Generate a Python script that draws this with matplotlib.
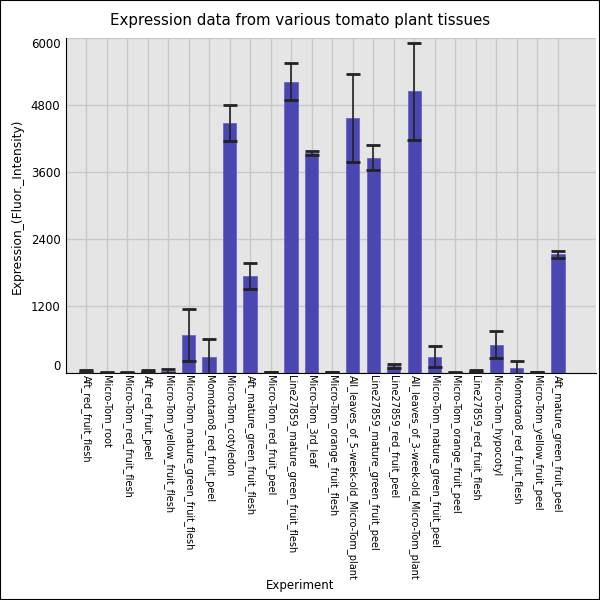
import matplotlib
matplotlib.use("Agg")
import matplotlib.pyplot as plt
from matplotlib.patches import Rectangle
import numpy as np

experiments = [
    "Aft_red_fruit_flesh", "Micro-Tom_root", "Micro-Tom_red_fruit_flesh",
    "Aft_red_fruit_peel", "Micro-Tom_yellow_fruit_flesh",
    "Micro-Tom_mature_green_fruit_flesh", "Momotaro8_red_fruit_peel",
    "Micro-Tom_cotyledon", "Aft_mature_green_fruit_flesh",
    "Micro-Tom_red_fruit_peel", "Line27859_mature_green_fruit_flesh",
    "Micro-Tom_3rd_leaf", "Micro-Tom_orange_fruit_flesh",
    "All_leaves_of_5-week-old_Micro-Tom_plant",
    "Line27859_mature_green_fruit_peel", "Line27859_red_fruit_peel",
    "All_leaves_of_3-week-old_Micro-Tom_plant",
    "Micro-Tom_mature_green_fruit_peel", "Micro-Tom_orange_fruit_peel",
    "Line27859_red_fruit_flesh", "Micro-Tom_hypocotyl",
    "Momotaro8_red_fruit_flesh", "Micro-Tom_yellow_fruit_peel",
    "Aft_mature_green_fruit_peel",
]
expression = [35, 15, 18, 45, 40, 680, 290, 4480, 1740, 18, 5225,
              3940, 22, 4570, 3865, 130, 5050, 295, 15, 45, 513, 100, 18, 2130]
error = [30, 5, 8, 15, 35, 465, 330, 322, 235, 5, 330,
         36, 6, 785, 224, 40, 872, 188, 5, 15, 245, 110, 5, 68]
y_ticks = [0, 1200, 2400, 3600, 4800, 6000]

fig = plt.figure(figsize=(6, 6), dpi=100)
ax = fig.add_axes([0.11, 0.378, 0.883, 0.558])

x = np.arange(len(experiments))
ax.set_facecolor("#e5e5e5")
ax.grid(True, color="#c8c8c8", linewidth=1.0)
ax.set_axisbelow(True)

ax.bar(x, expression, width=0.65, color="#4a46b2", edgecolor="#6a67c0", linewidth=0.6, zorder=2)
ax.errorbar(x, expression, yerr=error, fmt="none", ecolor="#222222", elinewidth=1.2,
            capsize=5, capthick=2, zorder=3)

ax.set_xlim(-0.975, 24.85)
ax.set_ylim(0, 6000)
ax.set_yticks(y_ticks)
ax.set_yticklabels([str(t) for t in y_ticks], fontsize=8.5)
labels = ax.get_yticklabels()
labels[0].set_va("bottom")
labels[-1].set_va("top")
ax.set_xticks(x)
ax.set_xticklabels(experiments, rotation=270, fontsize=7.0, va="top", ha="center")
ax.tick_params(axis="x", length=0, pad=1.5)
ax.tick_params(axis="y", length=0, pad=4)

for side in ["top", "right"]:
    ax.spines[side].set_visible(False)
ax.spines["left"].set_color("black")
ax.spines["bottom"].set_color("black")

fig.text(0.5, 0.966, "Expression data from various tomato plant tissues",
         ha="center", va="center", fontsize=10.8)
ax.set_ylabel("Expression_(Fluor._Intensity)", fontsize=8.8, labelpad=5)
fig.text(0.5, 0.025, "Experiment", ha="center", va="center", fontsize=8.5)

fig.patches.append(Rectangle((0, 0), 1, 1, transform=fig.transFigure, fill=False,
                             edgecolor="black", linewidth=1.5))

plt.savefig("out.png", dpi=100)
